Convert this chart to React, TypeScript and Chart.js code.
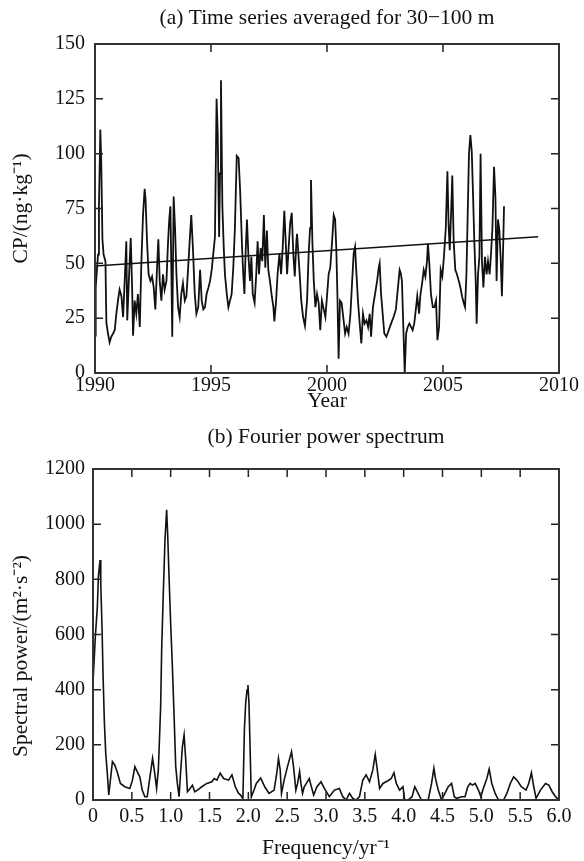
import { useEffect, useRef } from "react";
import { Chart, registerables } from "chart.js";

Chart.register(...registerables);

const FONT = "'Liberation Serif', 'Times New Roman', serif";
const INK = "#111";

// ---------- (a) time series ----------
const seriesYears = [
  1990.0, 1990.03, 1990.13, 1990.17, 1990.23, 1990.27, 1990.32, 1990.37, 1990.45, 1990.49,
  1990.56, 1990.63, 1990.7, 1990.78, 1990.85, 1990.92, 1990.99, 1991.06, 1991.14, 1991.21,
  1991.28, 1991.35, 1991.39, 1991.47, 1991.54, 1991.6, 1991.64, 1991.71, 1991.78, 1991.85,
  1991.93, 1992.0, 1992.07, 1992.14, 1992.18, 1992.24, 1992.31, 1992.39, 1992.46, 1992.53,
  1992.6, 1992.67, 1992.73, 1992.79, 1992.86, 1992.93, 1993.0, 1993.08, 1993.15, 1993.2,
  1993.25, 1993.29, 1993.33, 1993.39, 1993.45, 1993.51, 1993.58, 1993.65, 1993.72, 1993.79,
  1993.87, 1993.94, 1994.01, 1994.08, 1994.15, 1994.22, 1994.3, 1994.37,
  1994.45, 1994.53, 1994.6, 1994.67, 1994.74, 1994.81, 1994.89, 1994.96, 1995.03, 1995.1,
  1995.17, 1995.24, 1995.29, 1995.35, 1995.39, 1995.43, 1995.49, 1995.55, 1995.6, 1995.68,
  1995.75, 1995.82, 1995.89, 1995.96, 1996.03, 1996.11, 1996.19, 1996.26, 1996.34, 1996.39,
  1996.44, 1996.49, 1996.55, 1996.61, 1996.68, 1996.74, 1996.8, 1996.88, 1996.95, 1997.01,
  1997.07, 1997.14, 1997.21, 1997.28, 1997.34, 1997.41, 1997.47, 1997.54, 1997.62, 1997.69,
  1997.73, 1997.8, 1997.87, 1997.95, 1998.02, 1998.09, 1998.16, 1998.22, 1998.28, 1998.33,
  1998.41, 1998.48, 1998.55, 1998.61, 1998.68, 1998.71,
  1998.82, 1998.89, 1998.97, 1999.05, 1999.14, 1999.21, 1999.27, 1999.31, 1999.37, 1999.43,
  1999.5, 1999.57, 1999.64, 1999.71, 1999.78, 1999.86, 1999.93, 2000.0, 2000.07, 2000.14,
  2000.22, 2000.29, 2000.35, 2000.4, 2000.45, 2000.5, 2000.56, 2000.63, 2000.7, 2000.78,
  2000.85, 2000.93, 2001.01, 2001.08, 2001.15, 2001.21, 2001.26, 2001.34, 2001.41, 2001.48,
  2001.55, 2001.62, 2001.7, 2001.77, 2001.84, 2001.9, 2001.98, 2002.07, 2002.16, 2002.23,
  2002.27, 2002.33, 2002.4, 2002.47, 2002.56, 2002.66, 2002.76, 2002.87, 2002.97, 2003.05,
  2003.13,
  2003.18, 2003.23, 2003.29, 2003.35, 2003.41, 2003.48, 2003.55, 2003.62, 2003.69, 2003.76,
  2003.84, 2003.89, 2003.97, 2004.02, 2004.1, 2004.17, 2004.24, 2004.31, 2004.35, 2004.41,
  2004.48, 2004.56, 2004.63, 2004.7, 2004.76, 2004.83, 2004.9, 2004.97, 2005.04, 2005.12,
  2005.19, 2005.24, 2005.29, 2005.35, 2005.4, 2005.46, 2005.53, 2005.6, 2005.68, 2005.75,
  2005.82, 2005.89, 2005.95, 2006.01, 2006.06, 2006.12, 2006.18, 2006.24, 2006.29, 2006.35,
  2006.41, 2006.45, 2006.51, 2006.57, 2006.62, 2006.68, 2006.74, 2006.81, 2006.88, 2006.94,
  2007.01, 2007.07, 2007.13, 2007.2, 2007.26, 2007.31, 2007.37, 2007.43, 2007.49, 2007.54,
  2007.6, 2007.63,
];
const seriesValues = [
  17, 39, 54, 76, 111, 96, 61, 54, 51, 23,
  18, 14, 16.5, 18, 19.5, 27, 33, 38, 35, 25.5,
  42, 60, 24, 45, 61.5, 39, 17, 33, 27, 36,
  21, 51, 72, 84, 79, 61, 45, 42, 44, 39,
  29, 47, 61, 42, 33, 45, 38, 42, 60, 70,
  76, 47, 16.5, 80.5, 66, 45, 30, 25.5, 36, 41,
  33, 35, 47, 60, 72, 57, 36, 27,
  30, 47, 33, 29, 30, 36, 39, 42, 47, 54.5,
  62, 125, 109, 62, 91, 133.5, 76, 57, 45, 36,
  30, 33, 36, 48, 66, 99, 98, 82, 57, 45,
  36, 54.5, 70, 54, 42, 53, 36, 32, 45, 60,
  45, 57, 51, 72, 48, 65, 47, 42, 35, 30,
  23.5, 32, 45, 54.5, 45, 57, 74, 60, 45, 54,
  68, 73, 54, 44, 60, 63.5,
  45.5, 33, 25.5, 21.5, 33, 54.5, 66, 88, 60, 42,
  30, 36, 32, 19.5, 33, 29, 25.5, 35, 45, 48,
  60, 72, 70, 57, 35, 6.5, 33, 32, 25.5, 18,
  21, 18, 27, 41, 54.5, 57.5, 47, 32, 22.5, 13.5,
  27, 22.5, 24, 21, 27, 16.5, 30, 36, 42, 48,
  50, 36, 27, 18, 16.5, 19.5, 22.5, 25.5, 29, 38,
  47,
  45.5, 42, 21, 0, 18, 21, 22.5, 21, 19.5, 22.5,
  30, 35, 27, 35, 41, 47, 44, 51, 59, 50,
  36, 30, 30, 33, 15, 21, 47, 44, 53, 66,
  92, 68, 56, 73, 90, 60, 47, 45, 42, 39,
  35, 32, 30, 45, 70, 100, 108.5, 101, 83, 60,
  42, 22.5, 45, 53, 100, 51, 39, 53, 45, 51,
  45, 54.5, 66, 94, 80, 42, 70, 65, 51, 35,
  61, 76,
];
const trendYears = [1990, 2009.1];
const trendValues = [48.8, 62.1];
const yearTicks = [1990, 1995, 2000, 2005, 2010];
const cpTicks = [0, 25, 50, 75, 100, 125, 150];

// ---------- (b) Fourier power spectrum ----------
const freqs = [
  0.0, 0.03, 0.056, 0.069, 0.091, 0.1, 0.117, 0.13, 0.147, 0.164,
  0.181, 0.203, 0.224, 0.25, 0.28, 0.31, 0.353, 0.409, 0.474, 0.508,
  0.539, 0.569, 0.603, 0.634, 0.668, 0.698, 0.733, 0.767, 0.789, 0.819,
  0.841, 0.854, 0.871, 0.884, 0.905, 0.927, 0.948, 0.961, 0.979, 1.0,
  1.022, 1.043, 1.065, 1.086, 1.108, 1.13, 1.151, 1.173, 1.194, 1.216,
  1.25, 1.28, 1.31, 1.345, 1.401, 1.466, 1.53, 1.56, 1.595, 1.638,
  1.681, 1.746, 1.789, 1.832, 1.875, 1.9, 1.93, 1.95, 1.966, 1.983,
  1.995, 2.008, 2.021, 2.038, 2.073, 2.103, 2.159, 2.211, 2.267, 2.332,
  2.366, 2.388, 2.41, 2.427, 2.461, 2.504, 2.556, 2.582, 2.612, 2.634,
  2.66, 2.677, 2.698, 2.72, 2.785, 2.806, 2.841, 2.884, 2.936, 2.979,
  3.043, 3.108, 3.172, 3.216, 3.259, 3.302, 3.345, 3.388, 3.431, 3.474,
  3.517, 3.56, 3.603, 3.634, 3.655, 3.69, 3.733, 3.797, 3.84, 3.875,
  3.905, 3.948, 3.991, 4.013, 4.056, 4.108, 4.143, 4.186, 4.229, 4.316,
  4.359, 4.389, 4.41, 4.445, 4.488, 4.531, 4.574, 4.617, 4.652, 4.682,
  4.747, 4.79, 4.825, 4.855, 4.885, 4.92, 4.963, 4.993, 5.019, 5.071,
  5.101, 5.135, 5.178, 5.222, 5.286, 5.329, 5.373, 5.416, 5.459, 5.515,
  5.576, 5.61, 5.645, 5.675, 5.705, 5.761, 5.826, 5.869, 5.912, 5.955,
  6.0,
];
const powers = [
  423, 592, 700, 810, 870, 786, 616, 447, 278, 169,
  109, 18, 72, 139, 127, 103, 60, 48, 42, 72,
  121, 103, 84, 36, 12, 12, 84, 151, 109, 42,
  109, 206, 339, 544, 749, 943, 1052, 967, 810, 641,
  484, 314, 121, 60, 12, 109, 193, 236, 145, 30,
  42, 54, 30, 36, 48, 60, 66, 78, 72, 97,
  78, 72, 91, 48, 24, 18, 5, 260, 352, 399,
  417, 352, 207, 11, 36, 60, 80, 48, 24, 36,
  97, 151, 109, 24, 72, 121, 175, 121, 36, 60,
  103, 60, 24, 48, 78, 54, 18, 48, 66, 42,
  12, 36, 42, 12, 0, 24, 6, 0, 12, 72,
  91, 66, 109, 165, 121, 42, 60, 70, 78, 99,
  60, 36, 48, 0, 0, 12, 48, 24, 0, 0,
  60, 115, 78, 36, 0, 24, 48, 60, 12, 6,
  12, 12, 48, 60, 54, 60, 36, 12, 36, 78,
  112, 60, 24, 0, 0, 24, 60, 84, 72, 48,
  36, 60, 99, 48, 6, 36, 60, 54, 30, 12,
  0,
];
const freqTicks = [0, 0.5, 1, 1.5, 2, 2.5, 3, 3.5, 4, 4.5, 5, 5.5, 6];
const powerTicks = [0, 200, 400, 600, 800, 1000, 1200];

const framePlugin = {
  id: "frameTicks",
  afterDraw(chart: any) {
    const { ctx, chartArea } = chart;
    const { left, right, top, bottom } = chartArea;
    const xs = chart.scales.x;
    const ys = chart.scales.y;
    const len = 8;
    ctx.save();
    ctx.strokeStyle = "#222";
    ctx.lineWidth = 1.5;
    ctx.beginPath();
    xs.ticks.forEach((t: any) => {
      const px = xs.getPixelForValue(t.value);
      if (px <= left + 1 || px >= right - 1) return;
      ctx.moveTo(px, bottom);
      ctx.lineTo(px, bottom - len);
      ctx.moveTo(px, top);
      ctx.lineTo(px, top + len);
    });
    ys.ticks.forEach((t: any) => {
      const py = ys.getPixelForValue(t.value);
      if (py <= top + 1 || py >= bottom - 1) return;
      ctx.moveTo(left, py);
      ctx.lineTo(left + len, py);
      ctx.moveTo(right, py);
      ctx.lineTo(right - len, py);
    });
    ctx.stroke();
    ctx.strokeStyle = "#333";
    ctx.lineWidth = 2;
    ctx.strokeRect(left, top, right - left, bottom - top);
    ctx.restore();
  },
};

function makeConfig(p: {
  title: string;
  titlePad: { top: number; bottom: number };
  datasets: any[];
  xMin: number;
  xMax: number;
  xTicks: number[];
  xFmt: (v: number) => string;
  xTickPad: number;
  xTitle: string;
  xTitlePadBottom: number;
  xHeight: number;
  yMin: number;
  yMax: number;
  yTicks: number[];
  yTitle: string;
  yWidth: number;
  yTickPad: number;
}) {
  const tickFont = { family: FONT, size: 20 };
  const titleFont = { family: FONT, size: 21.5, weight: "normal" as const };
  return {
    type: "line" as const,
    data: { datasets: p.datasets },
    options: {
      responsive: false,
      maintainAspectRatio: false,
      animation: false as const,
      layout: { padding: 0 },
      plugins: {
        legend: { display: false },
        tooltip: { enabled: false },
        title: {
          display: true,
          fullSize: false,
          text: p.title,
          color: INK,
          font: titleFont,
          padding: p.titlePad,
        },
      },
      scales: {
        x: {
          type: "linear" as const,
          min: p.xMin,
          max: p.xMax,
          afterBuildTicks: (s: any) => {
            s.ticks = p.xTicks.map((v) => ({ value: v }));
          },
          ticks: {
            color: INK,
            font: tickFont,
            padding: p.xTickPad,
            maxRotation: 0,
            autoSkip: false,
            callback: (v: any) => p.xFmt(Number(v)),
          },
          grid: { display: false, drawTicks: false },
          border: { display: false },
          title: {
            display: true,
            text: p.xTitle,
            color: INK,
            font: titleFont,
            padding: { top: 0, bottom: p.xTitlePadBottom },
          },
          afterFit: (s: any) => {
            s.height = p.xHeight;
            s.paddingLeft = 0;
            s.paddingRight = 25;
          },
        },
        y: {
          type: "linear" as const,
          min: p.yMin,
          max: p.yMax,
          afterBuildTicks: (s: any) => {
            s.ticks = p.yTicks.map((v) => ({ value: v }));
          },
          ticks: {
            color: INK,
            font: tickFont,
            padding: p.yTickPad,
            autoSkip: false,
            callback: (v: any) => String(v),
          },
          grid: { display: false, drawTicks: false },
          border: { display: false },
          title: {
            display: true,
            text: p.yTitle,
            color: INK,
            font: titleFont,
            padding: { top: 8, bottom: 0 },
          },
          afterFit: (s: any) => {
            s.width = p.yWidth;
            s.paddingTop = 0;
            s.paddingBottom = 0;
          },
        },
      },
    },
    plugins: [framePlugin],
  };
}

const seriesStyle = {
  borderColor: INK,
  borderWidth: 1.8,
  pointRadius: 0,
  tension: 0,
  fill: false,
};

export default function App() {
  const topRef = useRef<HTMLCanvasElement>(null);
  const botRef = useRef<HTMLCanvasElement>(null);

  useEffect(() => {
    const top = new Chart(
      topRef.current as HTMLCanvasElement,
      makeConfig({
        title: "(a) Time series averaged for 30\u2212100 m",
        titlePad: { top: 5, bottom: 13.2 },
        datasets: [
          { ...seriesStyle, data: seriesYears.map((x, i) => ({ x, y: seriesValues[i] })) },
          {
            ...seriesStyle,
            borderWidth: 1.5,
            data: trendYears.map((x, i) => ({ x, y: trendValues[i] })),
          },
        ],
        xMin: 1990,
        xMax: 2010,
        xTicks: yearTicks,
        xFmt: (v) => String(v),
        xTickPad: 1,
        xTitle: "Year",
        xTitlePadBottom: 6,
        xHeight: 47,
        yMin: 0,
        yMax: 150,
        yTicks: cpTicks,
        yTitle: "CP/(ng\u00b7kg\u207b\u00b9)",
        yWidth: 95,
        yTickPad: 10,
      }) as any
    );
    const bottom = new Chart(
      botRef.current as HTMLCanvasElement,
      makeConfig({
        title: "(b) Fourier power spectrum",
        titlePad: { top: 4, bottom: 19.2 },
        datasets: [
          {
            ...seriesStyle,
            borderWidth: 1.6,
            data: freqs.map((x, i) => ({ x, y: powers[i] })),
          },
        ],
        xMin: 0,
        xMax: 6,
        xTicks: freqTicks,
        xFmt: (v) => (v === 0 ? "0" : v.toFixed(1)),
        xTickPad: 5,
        xTitle: "Frequency/yr\u207b\u00b9",
        xTitlePadBottom: 0,
        xHeight: 61,
        yMin: 0,
        yMax: 1200,
        yTicks: powerTicks,
        yTitle: "Spectral power/(m\u00b2\u00b7s\u207b\u00b2)        ",
        yWidth: 93,
        yTickPad: 8,
      }) as any
    );
    return () => {
      top.destroy();
      bottom.destroy();
    };
  }, []);

  return (
    <div
      style={{
        position: "absolute",
        left: 0,
        top: 0,
        width: 584,
        height: 861,
        background: "#fff",
        overflow: "hidden",
      }}
    >
      <canvas
        ref={topRef}
        width={584}
        height={420}
        style={{ position: "absolute", left: 0, top: 0, display: "block" }}
      />
      <canvas
        ref={botRef}
        width={584}
        height={441}
        style={{ position: "absolute", left: 0, top: 420, display: "block" }}
      />
    </div>
  );
}
